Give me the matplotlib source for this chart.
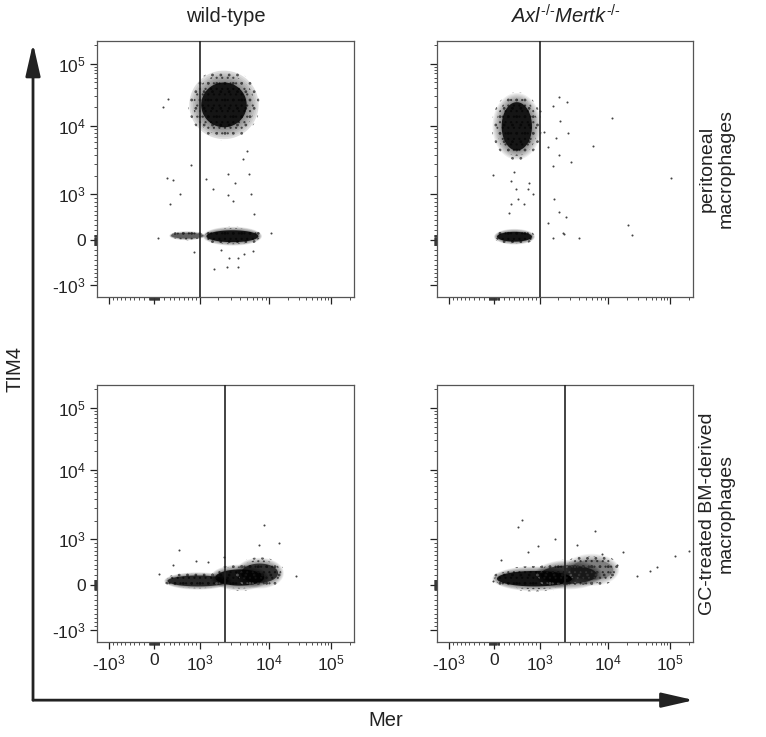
import numpy as np
import matplotlib
matplotlib.use('Agg')
import matplotlib.pyplot as plt
from matplotlib.patches import FancyArrowPatch
from matplotlib.ticker import FixedLocator, FixedFormatter, NullFormatter

plt.rcParams['font.family'] = ['Liberation Sans', 'DejaVu Sans']
plt.rcParams['mathtext.fontset'] = 'custom'
plt.rcParams['mathtext.rm'] = 'Liberation Sans'
plt.rcParams['mathtext.it'] = 'Liberation Sans:italic'
plt.rcParams['mathtext.bf'] = 'Liberation Sans:bold'
plt.rcParams['mathtext.sf'] = 'Liberation Sans'
plt.rcParams['hatch.linewidth'] = 0.8

# ---------------- data ----------------
col_titles = ['wild-type', r'$\mathit{Axl}^{\text{-/-}}\mathit{Mertk}^{\text{-/-}}$']
row_titles = ['peritoneal\nmacrophages', 'GC-treated BM-derived\nmacrophages']
x_label = 'Mer'
y_label = 'TIM4'
tick_values = [-1e3, 0, 1e3, 1e4, 1e5]
tick_labels = [r'-$10^3$', '0', r'$10^3$', r'$10^4$', r'$10^5$']
axis_limits = (-1600, 235000)

# vertical gate on Mer for each panel (TL, TR, BL, BR)
gate_mer = [1000, 1000, 2500, 2500]

# dense event clusters: (mer_lo, mer_hi, tim4_lo, tim4_hi, relative density)
clusters_wt_peri = [(1050, 5000, 9500, 50000, 1.0),
                    (1300, 7200, -40, 190, 1.0),
                    (330, 1150, 30, 140, 0.5)]
clusters_ko_peri = [(150, 800, 4600, 24000, 1.0),
                    (60, 800, -30, 160, 1.0)]
clusters_wt_bmdm = [(260, 2800, -30, 180, 0.85),
                    (1800, 8600, -15, 300, 1.0),
                    (4200, 14000, 40, 420, 0.8)]
clusters_ko_bmdm = [(60, 3200, -30, 270, 1.0),
                    (1030, 7000, 20, 380, 0.75),
                    (3050, 12000, 96, 500, 0.3)]

# sparse individual events (Mer, TIM4)
wt_peri_mer = [173, 271, 251, 372, 519, 311, 770, 1270, 1660, 2760, 2760, 3240, 3430,
               4460, 5000, 5300, 5650, 6290, 10800, 843, 77, 2150, 2830, 3800, 4600,
               1720, 2700, 3800, 6100]
wt_peri_tim = [20300, 27500, 1840, 1720, 1030, 745, 2930, 1780, 1270, 2180, 970, 830,
               1550, 3460, 4460, 2180, 1000, 520, 135, -237, 38, -197, -360, -360, -280,
               -600, -560, -560, -215]
ko_peri_mer = [2040, 2700, 1660, 2150, 2830, 1900, 3050, 2040, 1660, 11600, 6290, 104000,
               1720, 2040, 2600, 2400, 1660, 2420, 4050, 21000, 24500, 1380, -20,
               331, 435, 700, 475, 607, 331, 820, 291, 721, 392, 1030, 1180, 1380]
ko_peri_tim = [28700, 24500, 21000, 12000, 8050, 6800, 3150, 4000, 2760, 13500, 5300, 1900,
               870, 560, 455, 135, 38, 115, 38, 290, 96, 331, 2050,
               1660, 1270, 1270, 870, 745, 745, 1000, 540, 1550, 2330, 17000, 8300, 5100]
wt_bmdm_mer = [8580, 14500, 7400, 497, 372, 96, 27500, 890, 1380, 2420]
wt_bmdm_tim = [1720, 890, 830, 721, 392, 213, 174, 475, 455, 560]
ko_bmdm_mer = [560, 475, 6500, 1780, 3800, 17000, 29500, 47000, 61000, 120000, 200000,
               8300, 14000, 10800, 950, 700, 134, -20]
ko_bmdm_tim = [2050, 1610, 1380, 1000, 843, 675, 174, 270, 350, 583, 700,
               630, 392, 250, 810, 675, 497, 77]

panel_clusters = [clusters_wt_peri, clusters_ko_peri, clusters_wt_bmdm, clusters_ko_bmdm]
panel_points = [(wt_peri_mer, wt_peri_tim), (ko_peri_mer, ko_peri_tim),
                (wt_bmdm_mer, wt_bmdm_tim), (ko_bmdm_mer, ko_bmdm_tim)]

# ---------------- biexponential-like display scale ----------------
_ANCH_V = np.array([-1e4, -1e3, 0.0, 1e3, 1e4, 1e5, 1e6])
_ANCH_P = np.array([-115.0, -45.0, 0.0, 46.0, 115.0, 177.0, 239.0])


def _g(v):
    return np.arcsinh(np.asarray(v, dtype=float) / 1000.0)


_ANCH_G = _g(_ANCH_V)


def fwd(v):
    return np.interp(_g(v), _ANCH_G, _ANCH_P)


def inv(p):
    return 1000.0 * np.sinh(np.interp(np.asarray(p, dtype=float), _ANCH_P, _ANCH_G))


minor_ticks = []
for k in (10, 100):
    for m in range(1, 10):
        minor_ticks += [m * k, -m * k]
for m in range(2, 10):
    minor_ticks += [m * 1e3, m * 1e4]
minor_ticks += [2e5]

# ---------------- figure ----------------
fig = plt.figure(figsize=(7.66, 7.37), dpi=100)
fig.patch.set_facecolor('white')

positions = [[0.1266, 0.5970, 0.3355, 0.3474],
             [0.5705, 0.5970, 0.3342, 0.3474],
             [0.1266, 0.1289, 0.3355, 0.3487],
             [0.5705, 0.1289, 0.3342, 0.3487]]

t = np.linspace(0, 2 * np.pi, 240)
halo_steps = np.linspace(0.6, 0.05, 8)
speckle_layers = [(0.65, '..'), (0.35, '...')]

axes = []
for i, pos in enumerate(positions):
    ax = fig.add_axes(pos)
    axes.append(ax)
    ax.set_xscale('function', functions=(fwd, inv))
    ax.set_yscale('function', functions=(fwd, inv))
    ax.set_xlim(*axis_limits)
    ax.set_ylim(*axis_limits)

    # clusters (speckled halo of sparse events around a dense core)
    for (x0, x1, y0, y1, dens) in panel_clusters[i]:
        fx0, fx1, fy0, fy1 = fwd(x0), fwd(x1), fwd(y0), fwd(y1)
        cx, cy = (fx0 + fx1) / 2, (fy0 + fy1) / 2
        rx, ry = (fx1 - fx0) / 2, (fy1 - fy0) / 2
        base = min(rx, ry)
        for k, h in speckle_layers:
            pad = min(base * k, 13)
            ex = inv(cx + (rx + pad) * np.cos(t))
            ey = inv(cy + (ry + pad) * np.sin(t))
            ax.fill(ex, ey, facecolor='none', edgecolor='#666666', hatch=h,
                    lw=0, zorder=2)
        for k in halo_steps:
            pad = min(base * k, 12)
            ex = inv(cx + (rx + pad) * np.cos(t))
            ey = inv(cy + (ry + pad) * np.sin(t))
            ax.fill(ex, ey, color='black', alpha=0.07 * (0.5 + 0.5 * dens), lw=0, zorder=2)
        ex = inv(cx + rx * np.cos(t))
        ey = inv(cy + ry * np.sin(t))
        ax.fill(ex, ey, color='black', alpha=0.85 * dens, lw=0, zorder=2)

    # individual events
    px, py = panel_points[i]
    ax.scatter(px, py, s=2.2, color='#444444', linewidths=0, zorder=3)

    # gate
    ax.axvline(gate_mer[i], color='#222222', lw=1.2, zorder=4)

    for sp in ax.spines.values():
        sp.set_color('#555555')
        sp.set_linewidth(0.9)

    for axis in (ax.xaxis, ax.yaxis):
        axis.set_major_locator(FixedLocator(tick_values))
        axis.set_minor_locator(FixedLocator(minor_ticks))
        axis.set_minor_formatter(NullFormatter())
    ax.tick_params(which='major', direction='out', length=5, width=0.9,
                   color='#222222', labelsize=12.5, labelcolor='#222222', pad=3)
    ax.tick_params(which='minor', direction='out', length=2.5, width=0.6,
                   color='#333333')
    if i in (0, 2):
        ax.yaxis.set_major_formatter(FixedFormatter(tick_labels))
    else:
        ax.yaxis.set_major_formatter(NullFormatter())
    if i in (2, 3):
        ax.xaxis.set_major_formatter(FixedFormatter(tick_labels))
    else:
        ax.xaxis.set_major_formatter(NullFormatter())

# column titles
for j, ttl in enumerate(col_titles):
    p = positions[j]
    fig.text(p[0] + p[2] / 2, 0.978, ttl, ha='center', va='center',
             fontsize=14.5, color='#222222')

# row titles
for j, ttl in enumerate(row_titles):
    p = positions[2 * j]
    fig.text(0.936, p[1] + p[3] / 2, ttl, ha='center', va='center', rotation=90,
             fontsize=14, color='#222222', linespacing=1.15)

fig.text(0.0196, 0.500, y_label, ha='center', va='center', rotation=90,
         fontsize=14.5, color='#222222')
fig.text(0.503, 0.022, x_label, ha='center', va='center',
         fontsize=14.5, color='#222222')

# long axis arrows
ox, oy = 0.0431, 0.0500
for end in [(ox, 0.941), (0.906, oy)]:
    arr = FancyArrowPatch((ox, oy), end, transform=fig.transFigure,
                          arrowstyle='-|>,head_length=1.4,head_width=0.32',
                          mutation_scale=14, lw=2.0, color='#222222',
                          shrinkA=0, shrinkB=0)
    fig.add_artist(arr)

fig.savefig('out.png', dpi=100, facecolor='white')
